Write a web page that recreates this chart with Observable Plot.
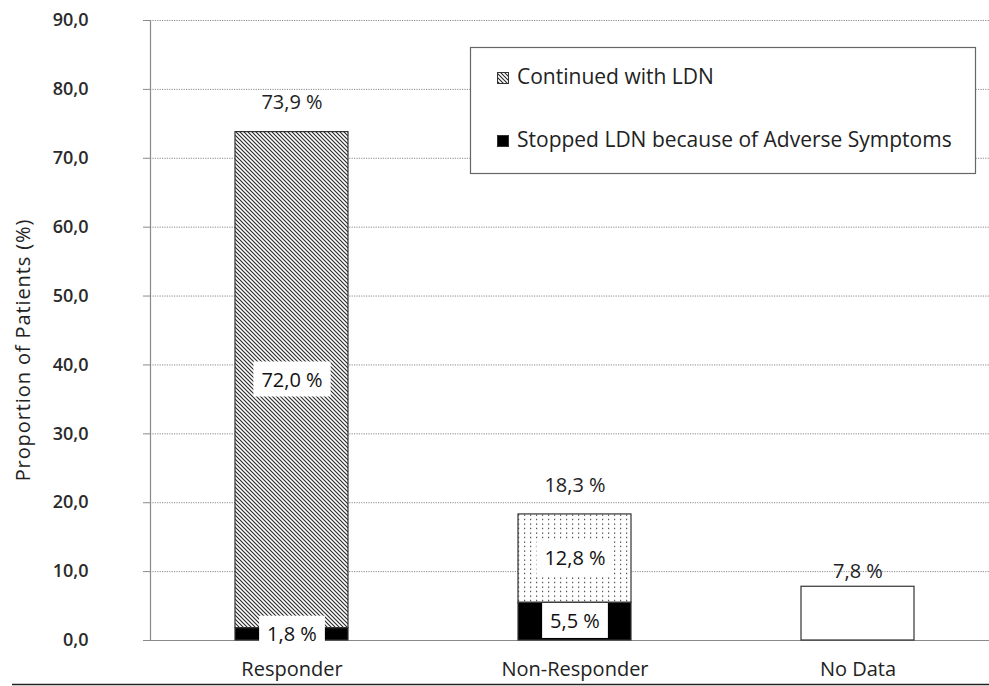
<!DOCTYPE html>
<html>
<head>
<meta charset="utf-8">
<script src="https://cdn.jsdelivr.net/npm/d3@7"></script>
<script src="https://cdn.jsdelivr.net/npm/@observablehq/plot@0.6"></script>
<style>
  html, body { margin: 0; padding: 0; background: #fff; }
  #chart { position: relative; width: 989px; height: 686px; }
  svg { font-family: "Open Sans", sans-serif; overflow: visible; }
</style>
</head>
<body>
<div id="chart"></div>
<script>
// ---- data ----
const categories = ["Responder", "Non-Responder", "No Data"];
const stoppedValues = [1.8, 5.5, null];     // Stopped LDN because of Adverse Symptoms
const continuedValues = [72.0, 12.8, null]; // Continued with LDN
const noDataValues = [null, null, 7.8];
const totalValues = [73.9, 18.3, 7.8];
const yTicks = [0, 10, 20, 30, 40, 50, 60, 70, 80, 90];
const legendLabels = ["Continued with LDN", "Stopped LDN because of Adverse Symptoms"];
const yLabel = "Proportion of Patients (%)";

const fmt = v => d3.format(".1f")(v).replace(".", ",");
const pct = v => fmt(v) + " %";

const rows = [];
categories.forEach((c, i) => {
  if (stoppedValues[i] != null) rows.push({cat: c, series: "Stopped", value: stoppedValues[i]});
  if (continuedValues[i] != null) rows.push({cat: c, series: "Continued", value: continuedValues[i]});
  if (noDataValues[i] != null) rows.push({cat: c, series: "No Data", value: noDataValues[i]});
});
const fillFor = d => d.series === "Stopped" ? "black"
  : d.series === "Continued" ? (d.cat === "Responder" ? "url(#hatch)" : "url(#dots)")
  : "white";
const stackedRows = rows.filter(d => d.series !== "No Data");
const inbarLabels = new Set(stackedRows.map(d => pct(d.value)));
const totals = categories.map((c, i) => ({cat: c, total: totalValues[i]}));
const stackedTotals = totals.filter((d, i) => stoppedValues[i] != null);
const otherTotals = totals.filter((d, i) => stoppedValues[i] == null);

const FONT = 20;

const plot = Plot.plot({
  width: 989,
  height: 686,
  marginLeft: 150,
  marginRight: 0,
  marginTop: 20,
  marginBottom: 46,
  style: {fontFamily: "'Open Sans', sans-serif", fontSize: FONT + "px", color: "#222", background: "white", overflow: "visible"},
  x: {domain: categories, range: [150, 999], paddingInner: 0.6, paddingOuter: 0.3, label: null},
  y: {domain: [0, 90], label: null},
  color: {type: "identity"},
  marks: [
    Plot.gridY(yTicks, {stroke: "#8a8a8a", strokeOpacity: 1, strokeDasharray: "1.2,1.2"}),
    Plot.ruleY([0], {stroke: "#8a8a8a", strokeWidth: 1.2}),
    Plot.frame({anchor: "left", stroke: "#8a8a8a", strokeWidth: 1.2}),
    Plot.axisY({ticks: yTicks, tickFormat: fmt, tickSize: 7, tickPadding: 55, stroke: "#8a8a8a", label: null, fontSize: 18, fontWeight: 600, fill: "#2a2a2a"}),
    Plot.axisX({tickSize: 0, tickPadding: 21, label: null, fontSize: FONT, fill: "#222"}),
    Plot.barY(rows, {x: "cat", y: "value", fill: fillFor, stroke: "#333", strokeWidth: 1.2}),
    Plot.text(stackedRows, Plot.stackY({x: "cat", y: "value", text: d => pct(d.value), fontSize: FONT, fill: "#111"})),
    Plot.text(stackedTotals, {x: "cat", y: "total", text: d => pct(d.total), dy: -29, fontSize: FONT, fill: "#222"}),
    Plot.text(otherTotals, {x: "cat", y: "total", text: d => pct(d.total), dy: -15, fontSize: FONT, fill: "#222"})
  ]
});

document.getElementById("chart").appendChild(plot);
const svg = d3.select(plot);

// patterns
const defs = svg.insert("defs", ":first-child");
const hatch = defs.append("pattern").attr("id", "hatch").attr("patternUnits", "userSpaceOnUse")
  .attr("width", 4).attr("height", 4);
hatch.append("rect").attr("width", 4).attr("height", 4).attr("fill", "white");
hatch.append("path").attr("d", "M-1,-1 L5,5 M-1,3 L1,5 M3,-1 L5,1").attr("stroke", "#2a2a2a").attr("stroke-width", 1.15);
const dots = defs.append("pattern").attr("id", "dots").attr("patternUnits", "userSpaceOnUse")
  .attr("width", 6).attr("height", 4.5);
dots.append("rect").attr("width", 6).attr("height", 4.5).attr("fill", "white");
dots.append("rect").attr("x", 2).attr("y", 1.5).attr("width", 1.2).attr("height", 1.2).attr("fill", "#333");

// white boxes behind in-bar labels (same transform as the text)
svg.selectAll("g[aria-label='text'] text").filter(function() { return inbarLabels.has(this.textContent); })
  .each(function() {
    const b = this.getBBox();
    const r = d3.select(this.parentNode).insert("rect", () => this)
      .attr("x", b.x - 8).attr("y", b.y - 4).attr("width", b.width + 16).attr("height", b.height + 8)
      .attr("fill", "white");
    const t = this.getAttribute("transform");
    if (t) r.attr("transform", t);
    const tx = this.getAttribute("x"), ty = this.getAttribute("y");
    // getBBox already includes x/y attributes of the text itself
  });

// y label
svg.append("text").attr("transform", "translate(25,350) rotate(-90)")
  .attr("text-anchor", "middle").attr("dominant-baseline", "middle")
  .attr("font-size", 20).attr("letter-spacing", 0.9).attr("fill", "#222").text(yLabel);

// legend
const lg = svg.append("g");
lg.append("rect").attr("x", 470.5).attr("y", 47.5).attr("width", 505).attr("height", 126)
  .attr("fill", "white").attr("stroke", "#666").attr("stroke-width", 1.2);
const fills = ["url(#hatch)", "black"];
[78, 141].forEach((cy, i) => {
  lg.append("rect").attr("x", 497.5).attr("y", cy - 5.5).attr("width", 11).attr("height", 11)
    .attr("fill", fills[i]).attr("stroke", "#333");
  lg.append("text").attr("x", 517).attr("y", cy).attr("text-anchor", "start").attr("dominant-baseline", "middle")
    .attr("font-size", 21).attr("fill", "#222").text(legendLabels[i]);
});

// bottom border line
svg.append("line").attr("x1", 12).attr("x2", 989).attr("y1", 684.5).attr("y2", 684.5)
  .attr("stroke", "#222").attr("stroke-width", 1.5);
</script>
</body>
</html>
